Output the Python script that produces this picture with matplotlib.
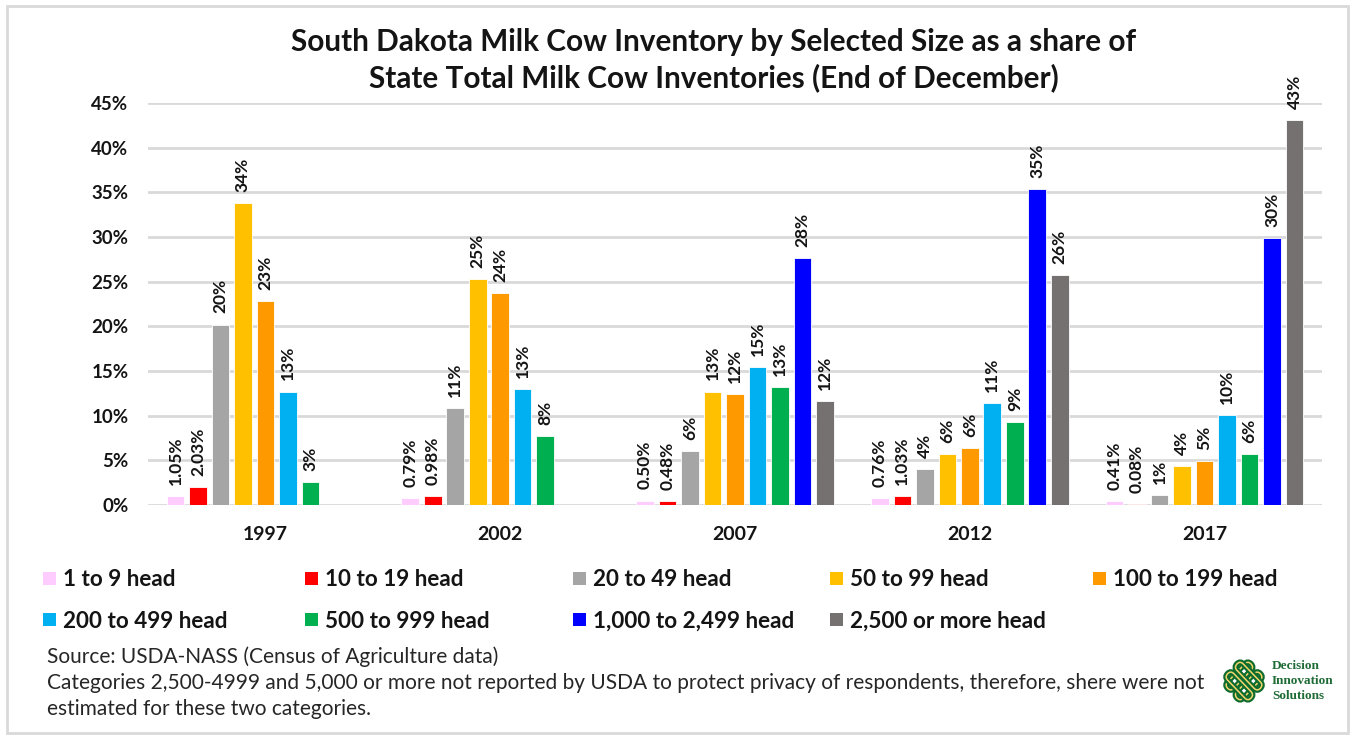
import matplotlib
matplotlib.use("Agg")
import matplotlib.pyplot as plt
from matplotlib import font_manager
from matplotlib.patches import Rectangle, FancyBboxPatch
from matplotlib.transforms import Affine2D
import numpy as np

# ---- data -------------------------------------------------------------
years = ["1997", "2002", "2007", "2012", "2017"]
series_names = ["1 to 9 head", "10 to 19 head", "20 to 49 head", "50 to 99 head",
                "100 to 199 head", "200 to 499 head", "500 to 999 head",
                "1,000 to 2,499 head", "2,500 or more head"]
series_colors = ["#FFCCFF", "#FF0000", "#A5A5A5", "#FFC000", "#FF9900",
                 "#00B0F0", "#00B050", "#0000FF", "#767171"]
# shares of state total (%), None = not reported
share_1_9 = [1.05, 0.79, 0.50, 0.76, 0.41]
share_10_19 = [2.03, 0.98, 0.48, 1.03, 0.08]
share_20_49 = [20.2, 10.9, 6.0, 4.0, 1.1]
share_50_99 = [33.8, 25.3, 12.7, 5.7, 4.4]
share_100_199 = [22.8, 23.7, 12.4, 6.4, 4.9]
share_200_499 = [12.7, 13.0, 15.4, 11.4, 10.1]
share_500_999 = [2.6, 7.7, 13.2, 9.3, 5.7]
share_1000_2499 = [None, None, 27.6, 35.4, 29.9]
share_2500_plus = [None, None, 11.6, 25.7, 43.1]
series_values = [share_1_9, share_10_19, share_20_49, share_50_99, share_100_199,
                 share_200_499, share_500_999, share_1000_2499, share_2500_plus]
label_decimals = [2, 2, 0, 0, 0, 0, 0, 0, 0]
y_ticks = [0, 5, 10, 15, 20, 25, 30, 35, 40, 45]

# ---- fonts ------------------------------------------------------------
def available(name):
    try:
        font_manager.findfont(name, fallback_to_default=False)
        return True
    except Exception:
        return False

base_font = "Lato" if available("Lato") else "DejaVu Sans"
plt.rcParams["font.family"] = [base_font, "DejaVu Sans"]

W, H, DPI = 1353, 736, 100
fig = plt.figure(figsize=(W / DPI, H / DPI), dpi=DPI)
fig.patch.set_facecolor("white")

def fx(px):
    return px / W

def fy(py):
    return 1 - py / H

# outer frame
fig.add_artist(Rectangle((fx(7), fy(733)), fx(1348) - fx(7), fy(6) - fy(733),
                         transform=fig.transFigure, fill=False,
                         edgecolor="#D9D9D9", linewidth=2))

ax = fig.add_axes([fx(148), fy(505), fx(1322) - fx(148), fy(103) - fy(505)])
n_series = len(series_values)
step = 0.0958
bar_w = 0.075
x = np.arange(len(years))
for i, (vals, col) in enumerate(zip(series_values, series_colors)):
    offs = (i - (n_series - 1) / 2) * step
    for j, v in enumerate(vals):
        if v is None:
            continue
        ax.bar(x[j] + offs, v, width=bar_w, color=col, edgecolor="white",
               linewidth=0.6, zorder=3)
        txt = f"{v:.{label_decimals[i]}f}%"
        ax.annotate(txt, (x[j] + offs, v), xytext=(0, 8), textcoords="offset points",
                    rotation=90, ha="center", va="bottom", fontsize=12.5,
                    fontweight="bold", color="#141414", zorder=4)

ax.set_xlim(-0.5, len(years) - 0.5)
ax.set_ylim(0, 45)
ax.set_yticks(y_ticks)
ax.set_yticklabels([f"{t}%" for t in y_ticks], fontsize=13.5, fontweight="bold")
ax.set_xticks(x)
ax.set_xticklabels(years, fontsize=14, fontweight="bold")
ax.tick_params(axis="both", length=0, colors="#141414")
ax.tick_params(axis="y", pad=14)
ax.tick_params(axis="x", pad=15)
ax.yaxis.grid(True, color="#D9D9D9", linewidth=2, zorder=0)
for s in ax.spines.values():
    s.set_visible(False)
ax.set_axisbelow(True)

# title
fig.text(fx(714), fy(42), "South Dakota Milk Cow Inventory by Selected Size as a share of",
         ha="center", va="center", fontsize=21.4, fontweight="bold", color="#141414")
fig.text(fx(714), fy(78), "State Total Milk Cow Inventories (End of December)",
         ha="center", va="center", fontsize=21.4, fontweight="bold", color="#141414")

# legend: two rows, evenly spaced columns
col_x = [43, 305, 573, 830, 1093]
row_y = [579, 620]
for k, (name, col) in enumerate(zip(series_names, series_colors)):
    r, c = divmod(k, 5)
    px, py = col_x[c], row_y[r]
    fig.add_artist(Rectangle((fx(px), fy(py + 6)), fx(13), 13 / H,
                             transform=fig.transFigure, facecolor=col,
                             edgecolor="none"))
    fig.text(fx(px + 20), fy(py + 1), name, ha="left", va="center", fontsize=16.2,
             fontweight="bold", color="#141414")

# source notes
notes = ["Source: USDA-NASS (Census of Agriculture data)",
         "Categories 2,500-4999 and 5,000 or more not reported by USDA to protect privacy of respondents, therefore, shere were not",
         "estimated for these two categories."]
for k, line in enumerate(notes):
    fig.text(fx(47), fy(657 + 26 * k), line, ha="left", va="center", fontsize=15,
             color="#262626")

# company mark
lax = fig.add_axes([fx(1222), fy(704), fx(44), 46 / H])
lax.set_xlim(-1, 1)
lax.set_ylim(-1, 1)
lax.axis("off")
for ang in (45, -45):
    for off in (-0.3, 0.3):
        tr = Affine2D().rotate_deg(ang).translate(
            off * np.cos(np.radians(ang + 90)), off * np.sin(np.radians(ang + 90))) + lax.transData
        outer = FancyBboxPatch((-0.75, -0.2), 1.5, 0.4,
                               boxstyle="round,pad=0,rounding_size=0.2",
                               fill=False, edgecolor="#0E6B2E", linewidth=4.2,
                               transform=tr)
        inner = FancyBboxPatch((-0.75, -0.2), 1.5, 0.4,
                               boxstyle="round,pad=0,rounding_size=0.2",
                               fill=False, edgecolor="#F2D56B", linewidth=1.1,
                               transform=tr)
        lax.add_patch(outer)
        lax.add_patch(inner)
for k, word in enumerate(["Decision", "Innovation", "Solutions"]):
    fig.text(fx(1272), fy(666 + 15 * k), word, ha="left", va="center",
             fontsize=9.5, fontweight="bold", family=["Liberation Serif", "DejaVu Serif"],
             color="#1F6B36")

fig.savefig("out.png", dpi=DPI, facecolor="white")
